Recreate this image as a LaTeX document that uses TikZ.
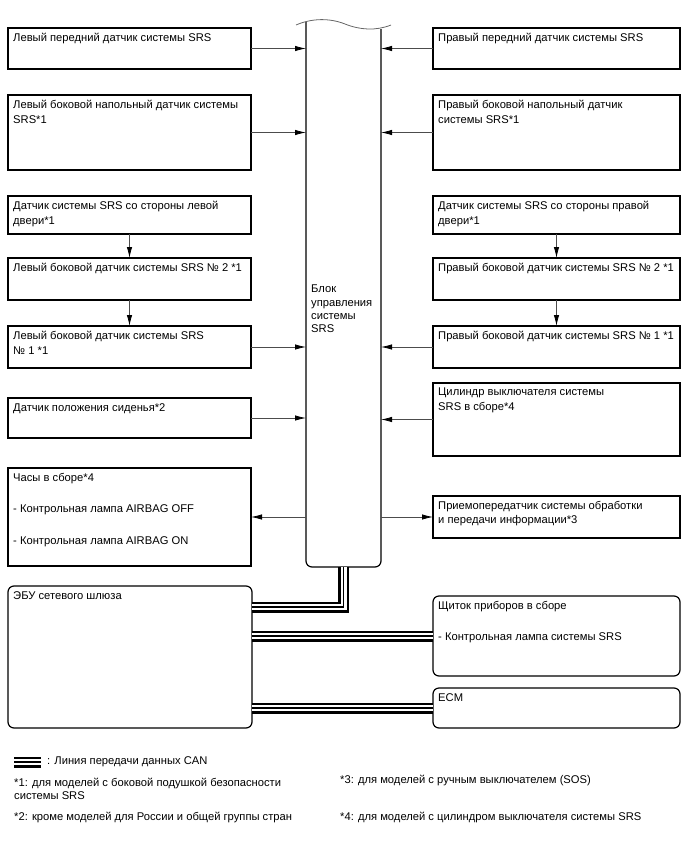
\documentclass[tikz,border=0pt]{standalone}
\usepackage{fontspec}
\setmainfont{Liberation Sans}
\usetikzlibrary{arrows.meta,calc}
\newcommand\bx[7][box]{\node[#1, minimum width=#5pt, minimum height=#6pt] (#2) at (#3,#4) {};
  \node[txt] (#2t) at ([xshift=5pt,yshift=-5pt]#2.north west) {#7};}
\newcommand\canpath[1]{\draw[canA] #1; \draw[canB] #1; \draw[canC] #1;}
\begin{document}
\begin{tikzpicture}[x=1pt,y=-1pt,
  box/.style={draw, line width=1.2pt, anchor=north west, inner sep=0pt, outer sep=0pt},
  rbox/.style={box, rounded corners=6pt},
  txt/.style={anchor=north west, align=left, inner sep=0pt, font=\fontsize{11.2}{14.5}\selectfont},
  ftxt/.style={anchor=north west, align=left, inner sep=0pt, font=\fontsize{11.2}{13}\selectfont},
  arr/.style={draw=black!70, line width=0.8pt, -{Latex[length=11pt,width=5.5pt,color=black]}},
  canA/.style={line width=11pt, black, line join=miter},
  canB/.style={line width=6pt, white, line join=miter},
  canC/.style={line width=1.5pt, black, line join=miter},
  ]
\useasboundingbox (0,0) rectangle (688,852);

% left column
\bx{L1}{8}{28}{243}{41}{Левый передний датчик системы SRS}
\bx{L2}{8}{95}{243}{75}{Левый боковой напольный датчик системы\\SRS*1}
\bx{L3}{8}{196}{243}{38}{Датчик системы SRS со стороны левой\\двери*1}
\bx{L4}{8}{258}{243}{42}{Левый боковой датчик системы SRS № 2 *1}
\bx{L5}{8}{326}{243}{42}{Левый боковой датчик системы SRS\\№ 1 *1}
\bx{L6}{8}{398}{243}{40}{Датчик положения сиденья*2}
\bx{L7}{8}{468}{243}{98}{Часы в сборе*4\\[17pt]- Контрольная лампа AIRBAG OFF\\[17pt]- Контрольная лампа AIRBAG ON}
\bx[rbox]{E}{8}{586}{244}{142}{ЭБУ сетевого шлюза}

% right column
\bx{R1}{433}{28}{247}{41}{Правый передний датчик системы SRS}
\bx{R2}{433}{95}{247}{75}{Правый боковой напольный датчик\\системы SRS*1}
\bx{R3}{433}{196}{247}{38}{Датчик системы SRS со стороны правой\\двери*1}
\bx{R4}{433}{258}{247}{42}{Правый боковой датчик системы SRS № 2 *1}
\bx{R5}{433}{326}{247}{42}{Правый боковой датчик системы SRS № 1 *1}
\bx{R6}{433}{383}{247}{73}{Цилиндр выключателя системы\\SRS в сборе*4}
\bx{R7}{433}{496}{247}{42}{Приемопередатчик системы обработки\\и передачи информации*3}
\bx[rbox]{S}{433}{596}{247}{80}{Щиток приборов в сборе\\[17pt]- Контрольная лампа системы SRS}
\bx[rbox]{M}{433}{688}{247}{40}{ECM}

% center block
\node[anchor=north west, inner sep=0pt, outer sep=0pt, minimum width=75pt, minimum height=545pt] (C) at (306,22) {};
\draw[line width=1.2pt, rounded corners=6pt] (C.north west) -- (C.south west) -- (C.south east) -- ([yshift=-7pt]C.north east);
\draw[black!60, line width=0.8pt] (296,25) .. controls (312,18) and (330,18) .. (345,24) .. controls (360,30) and (376,31) .. (391,25);
\node[txt, font=\fontsize{11.2}{13.3}\selectfont] (Ct) at (311,285) {Блок\\управления\\системы\\SRS};

% arrows
\foreach \n in {L1,L2,L5,L6} \draw[arr] (\n) -- (\n -| C.west);
\foreach \n in {R1,R2,R5,R6} \draw[arr] (\n) -- (\n -| C.east);
\draw[arr] (L7 -| C.west) -- (L7);
\draw[arr] (R7 -| C.east) -- (R7);
\draw[arr] (L3) -- (L4);
\draw[arr] (L4) -- (L5);
\draw[arr] (R3) -- (R4);
\draw[arr] (R4) -- (R5);

% CAN lines
\canpath{(C.south) |- ($(E.north east)+(0,21)$)}
\canpath{(S.west) -- (S.west -| E.east)}
\canpath{(M.west) -- (M.west -| E.east)}

% legend
\coordinate (lg1) at (14,762);
\coordinate (lg2) at (41,762);
\canpath{(lg1) -- (lg2)}
\node[anchor=west, inner sep=0pt, font=\fontsize{11.2}{13}\selectfont] (lgt) at (47,762) {: Линия передачи данных CAN};
\node[ftxt] (f1) at (14,778) {*1: для моделей с боковой подушкой безопасности\\системы SRS};
\node[ftxt] (f2) at (14,812) {*2: кроме моделей для России и общей группы стран};
\node[ftxt] (f3) at (340,775) {*3: для моделей с ручным выключателем (SOS)};
\node[ftxt] (f4) at (340,812) {*4: для моделей с цилиндром выключателя системы SRS};
\end{tikzpicture}
\end{document}
